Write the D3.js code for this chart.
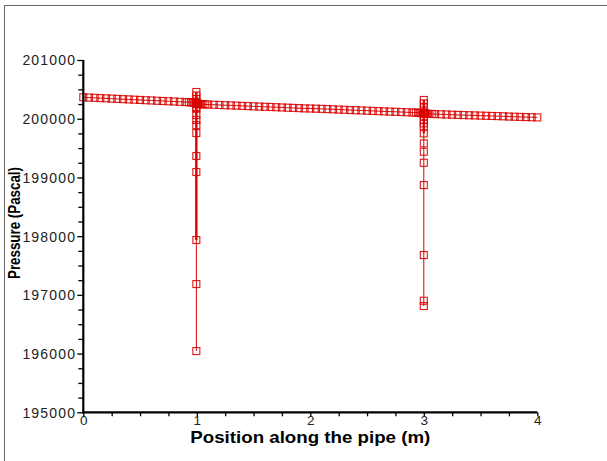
<!DOCTYPE html>
<html><head><meta charset="utf-8">
<script src="https://cdn.jsdelivr.net/npm/d3@7"></script>
<style>
html,body{margin:0;padding:0;background:#fff;}
svg{display:block;}
</style>
</head><body>
<svg id="c" width="607" height="461"></svg>
<script>
// ---- data ----
const mainX = [0,0.05,0.10,0.15,0.20,0.25,0.30,0.35,0.40,0.45,0.50,0.55,0.60,0.65,0.70,0.75,0.80,0.85,0.90,0.93,0.95,0.97,0.98,0.99,1.00,1.01,1.02,1.03,1.05,1.07,1.10,1.15,1.20,1.25,1.30,1.35,1.40,1.45,1.50,1.55,1.60,1.65,1.70,1.75,1.80,1.85,1.90,1.95,2.00,2.05,2.10,2.15,2.20,2.25,2.30,2.35,2.40,2.45,2.50,2.55,2.60,2.65,2.70,2.75,2.80,2.85,2.90,2.93,2.95,2.97,2.98,2.99,3.00,3.01,3.02,3.03,3.05,3.07,3.10,3.15,3.20,3.25,3.30,3.35,3.40,3.45,3.50,3.55,3.60,3.65,3.70,3.75,3.80,3.85,3.90,3.95,4.00];
const mainP = [200365,200360,200356,200351,200347,200342,200338,200333,200329,200324,200320,200315,200311,200306,200302,200297,200293,200288,200284,200281,200279,200276,200272,200268,200262,200255,200250,200248,200246,200244,200242,200238,200234,200230,200227,200223,200219,200215,200211,200207,200203,200200,200196,200192,200188,200184,200180,200176,200174,200171,200168,200164,200160,200156,200152,200148,200145,200141,200137,200133,200129,200125,200121,200118,200114,200110,200106,200103,200101,200099,200097,200094,200090,200086,200084,200083,200082,200081,200079,200075,200072,200068,200065,200062,200059,200056,200053,200050,200047,200044,200041,200037,200034,200031,200028,200025,200022];
const branch1X = 0.996;
const branch1P = [200455,200395,200335,200290,200250,200200,200170,200063,199980,199890,199756,199365,199092,197934,197184,196043];
const branch1Thick = 197934;   // lower end of the doubled (thicker) trace
const branch2X = 3.0;
const branch2P = [200319,200262,200190,200120,200034,199978,199921,199864,199750,199580,199438,199250,198870,197678,196900,196810];
const branch2Thick = 199750;
const xTicks = [0,1,2,3,4];
const xMinor = [0.25,0.5,0.75,1.25,1.5,1.75,2.25,2.5,2.75,3.25,3.5,3.75];
const yTicks = [195000,196000,197000,198000,199000,200000,201000];
const yMinor = d3.range(195000,201000,250).filter(v => v % 1000 !== 0);
const xTitle = "Position along the pipe (m)";
const yTitle = "Pressure (Pascal)";

// ---- drawing ----
const RED = "#dc0000";
const svg = d3.select("#c");
svg.append("rect").attr("x",4.5).attr("y",5.5).attr("width",700).attr("height",600)
  .attr("fill","none").attr("stroke","#666").attr("stroke-width",1);

const x = d3.scaleLinear().domain([0,4]).range([83.3,537.3]);
const y = d3.scaleLinear().domain([195000,201000]).range([412.3,60]);
const FONT = "'Liberation Sans', Arial, sans-serif";

// lines
const line = d3.line().x(d => x(d[0])).y(d => y(d[1]));
const mainPts = mainX.map((v,i) => [v, mainP[i]]);
const b1 = branch1P.map(p => [branch1X, p]);
const b2 = branch2P.map(p => [branch2X, p]);
const g = svg.append("g");
g.append("path").attr("d", line(mainPts)).attr("fill","none").attr("stroke",RED).attr("stroke-width",1);
g.append("path").attr("d", line(b1)).attr("fill","none").attr("stroke",RED).attr("stroke-width",1);
g.append("path").attr("d", line(b1.filter(d => d[1] >= branch1Thick))).attr("fill","none").attr("stroke",RED).attr("stroke-width",2.4);
g.append("path").attr("d", line(b2)).attr("fill","none").attr("stroke",RED).attr("stroke-width",1);
g.append("path").attr("d", line(b2.filter(d => d[1] >= branch2Thick))).attr("fill","none").attr("stroke",RED).attr("stroke-width",2.2);

// markers
const allPts = mainPts.concat(b1, b2);
g.selectAll("rect.m").data(allPts).join("rect").attr("class","m")
  .attr("x", d => x(d[0]) - 3.5).attr("y", d => y(d[1]) - 3.5)
  .attr("width",7).attr("height",7)
  .attr("fill","none").attr("stroke",RED).attr("stroke-width",1.1).attr("stroke-opacity",0.9);

// axes
function styleAxis(sel){
  sel.select(".domain").remove();
  sel.selectAll("line").attr("stroke","#000").attr("stroke-width",1.3);
  sel.selectAll("text").attr("font-family",FONT).attr("font-size",14).attr("fill","#222").attr("letter-spacing","1.2px");
}
const yAx = svg.append("g").attr("transform","translate(83.3,0)")
  .call(d3.axisLeft(y).tickValues(yTicks).tickFormat(d3.format("d")).tickSize(6).tickPadding(1));
styleAxis(yAx);
yAx.selectAll("text").attr("dy","0.35em");
const yMin = svg.append("g").attr("transform","translate(83.3,0)")
  .call(d3.axisLeft(y).tickValues(yMinor).tickFormat("").tickSize(5));
styleAxis(yMin);

const xAx = svg.append("g").attr("transform","translate(0,412.3)")
  .call(d3.axisBottom(x).tickValues(xTicks).tickFormat(d3.format("d")).tickSize(4).tickPadding(0));
styleAxis(xAx);
xAx.selectAll("text").attr("letter-spacing","0px").attr("font-size",13.5).attr("dy","0.68em");
const xMin = svg.append("g").attr("transform","translate(0,412.3)")
  .call(d3.axisBottom(x).tickValues(xMinor).tickFormat("").tickSize(4));
styleAxis(xMin);

// axis lines
svg.append("line").attr("x1",x(0)).attr("x2",x(0)).attr("y1",y(201000)).attr("y2",y(195000)+1)
  .attr("stroke","#000").attr("stroke-width",2.2);
svg.append("line").attr("x1",x(0)-1).attr("x2",x(4)).attr("y1",y(195000)).attr("y2",y(195000))
  .attr("stroke","#000").attr("stroke-width",2.2);

// titles
svg.append("text").attr("x",(x(0)+x(4))/2).attr("y",443).attr("text-anchor","middle")
  .attr("font-family",FONT).attr("font-weight","bold").attr("font-size",16.5)
  .attr("textLength",240).attr("lengthAdjust","spacingAndGlyphs").attr("fill","#000").text(xTitle);
svg.append("text").attr("transform","translate(20,223) rotate(-90)").attr("text-anchor","middle")
  .attr("font-family",FONT).attr("font-weight","bold").attr("font-size",16)
  .attr("textLength",112).attr("lengthAdjust","spacingAndGlyphs").attr("fill","#000").text(yTitle);
</script>
</body></html>
